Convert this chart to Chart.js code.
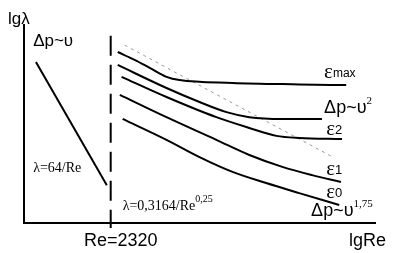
<!DOCTYPE html>
<html>
<head>
<meta charset="utf-8">
<script src="https://cdn.jsdelivr.net/npm/chart.js@4.4.0/dist/chart.umd.min.js"></script>
<style>
  html, body { margin: 0; padding: 0; background: #fff; }
  #wrap { width: 400px; height: 253px; }
</style>
</head>
<body>
<div id="wrap"><canvas id="chart"></canvas></div>
<script>
// lgRe (arbitrary units) and lgλ (arbitrary units)
const epsMaxX = [2.67, 3.15, 3.58, 4.06, 4.43, 5.94, 7.84, 9.18];
const epsMaxY = [4.75, 4.53, 4.31, 4.06, 3.97, 3.89, 3.85, 3.83];

const quadX = [2.67, 4.06, 5.00, 5.77, 6.42, 7.36, 8.49];
const quadY = [4.39, 3.75, 3.36, 3.08, 2.94, 2.89, 2.89];

const eps2X = [2.78, 4.06, 5.48, 6.42, 7.19, 7.84, 9.06];
const eps2Y = [4.06, 3.50, 2.94, 2.64, 2.42, 2.36, 2.33];

const eps1X = [2.73, 4.06, 5.48, 6.42, 7.36, 8.21, 9.03];
const eps1Y = [3.56, 2.94, 2.31, 1.89, 1.56, 1.33, 1.14];

const eps0X = [2.81, 4.06, 5.00, 5.94, 6.90, 7.84, 8.98];
const eps0Y = [2.89, 2.31, 1.83, 1.42, 1.11, 0.83, 0.50];

const smoothX = [2.87, 8.84];
const smoothY = [4.94, 1.81];

const laminarX = [0.34, 2.36];
const laminarY = [4.47, 1.05];

const critX = 2.47;           // Re = 2320
const critY = [5.2, -0.14];

function pts(xs, ys) {
  return xs.map((x, i) => ({ x: x, y: ys[i] }));
}

function curve(xs, ys) {
  return {
    data: pts(xs, ys),
    showLine: true,
    borderColor: "#000",
    borderWidth: 2,
    pointRadius: 0,
    cubicInterpolationMode: "monotone",
  };
}

// text labels: [x, y, segments], segment = [text, font, dy]
const sans = "Liberation Sans, Arial, sans-serif";
const serif = "Liberation Serif, Times New Roman, serif";
const labels = [
  [0.26, 5.06, [["Δp~υ", "17px " + sans, 0]]],
  [0.26, 1.53, [["λ=64/Re", "14px " + serif, 0]]],
  [2.81, 0.47, [["λ=0,3164/Re", "14px " + serif, 0], ["0,25", "10px " + serif, -7]]],
  [8.55, 4.17, [["ε", "21px " + serif, 0], ["max", "12px " + sans, 1]]],
  [8.55, 3.19, [["Δp~υ", "18px " + sans, 0], ["2", "11px " + serif, -7]]],
  [8.61, 2.61, [["ε", "21px " + serif, 0], ["2", "13px " + sans, 1]]],
  [8.61, 1.50, [["ε", "21px " + serif, 0], ["1", "13px " + sans, 1]]],
  [8.61, 0.86, [["ε", "21px " + serif, 0], ["0", "13px " + sans, 1]]],
  [8.18, 0.33, [["Δp~υ", "18px " + sans, 0], ["1,75", "11px " + serif, -7]]],
];

const textPlugin = {
  id: "texts",
  afterDraw(chart) {
    const ctx = chart.ctx;
    const xs = chart.scales.x;
    const ys = chart.scales.y;
    ctx.save();
    ctx.fillStyle = "#000";
    ctx.textBaseline = "middle";
    ctx.textAlign = "left";
    labels.forEach(([x, y, segs]) => {
      let px = xs.getPixelForValue(x);
      const py = ys.getPixelForValue(y);
      segs.forEach(([t, f, dy]) => {
        ctx.font = f;
        ctx.fillText(t, px, py + dy);
        px += ctx.measureText(t).width;
      });
    });
    // axis names
    const area = chart.chartArea;
    ctx.font = "17px " + sans;
    ctx.fillText("lgλ", area.left - 16, area.top - 6);
    ctx.font = "18px " + sans;
    ctx.textAlign = "center";
    ctx.fillText("Re=2320", xs.getPixelForValue(critX) + 10, area.bottom + 18);
    ctx.textAlign = "left";
    ctx.fillText("lgRe", area.right - 26, area.bottom + 18);
    ctx.restore();
  },
};

new Chart(document.getElementById("chart"), {
  type: "scatter",
  data: {
    datasets: [
      curve(epsMaxX, epsMaxY),
      curve(quadX, quadY),
      curve(eps2X, eps2Y),
      curve(eps1X, eps1Y),
      curve(eps0X, eps0Y),
      {
        data: pts(smoothX, smoothY),
        showLine: true,
        borderColor: "#999",
        borderWidth: 1,
        borderDash: [3, 4],
        pointRadius: 0,
      },
      {
        data: pts(laminarX, laminarY),
        showLine: true,
        borderColor: "#000",
        borderWidth: 2,
        pointRadius: 0,
      },
      {
        data: [{ x: critX, y: critY[0] }, { x: critX, y: critY[1] }],
        showLine: true,
        borderColor: "#000",
        borderWidth: 2,
        borderDash: [20, 9],
        pointRadius: 0,
        clip: false,
      },
    ],
  },
  options: {
    responsive: true,
    maintainAspectRatio: false,
    animation: false,
    layout: { padding: { left: 24, right: 25, top: 25, bottom: 30 } },
    plugins: { legend: { display: false }, tooltip: { enabled: false } },
    scales: {
      x: {
        type: "linear",
        min: 0,
        max: 10,
        ticks: { display: false },
        grid: { display: false },
        border: { display: true, color: "#000", width: 2 },
        afterFit(scale) { scale.height = 0; },
      },
      y: {
        type: "linear",
        min: 0,
        max: 5.5,
        ticks: { display: false },
        grid: { display: false },
        border: { display: true, color: "#000", width: 2 },
        afterFit(scale) { scale.width = 0; },
      },
    },
  },
  plugins: [textPlugin],
});
</script>
</body>
</html>
